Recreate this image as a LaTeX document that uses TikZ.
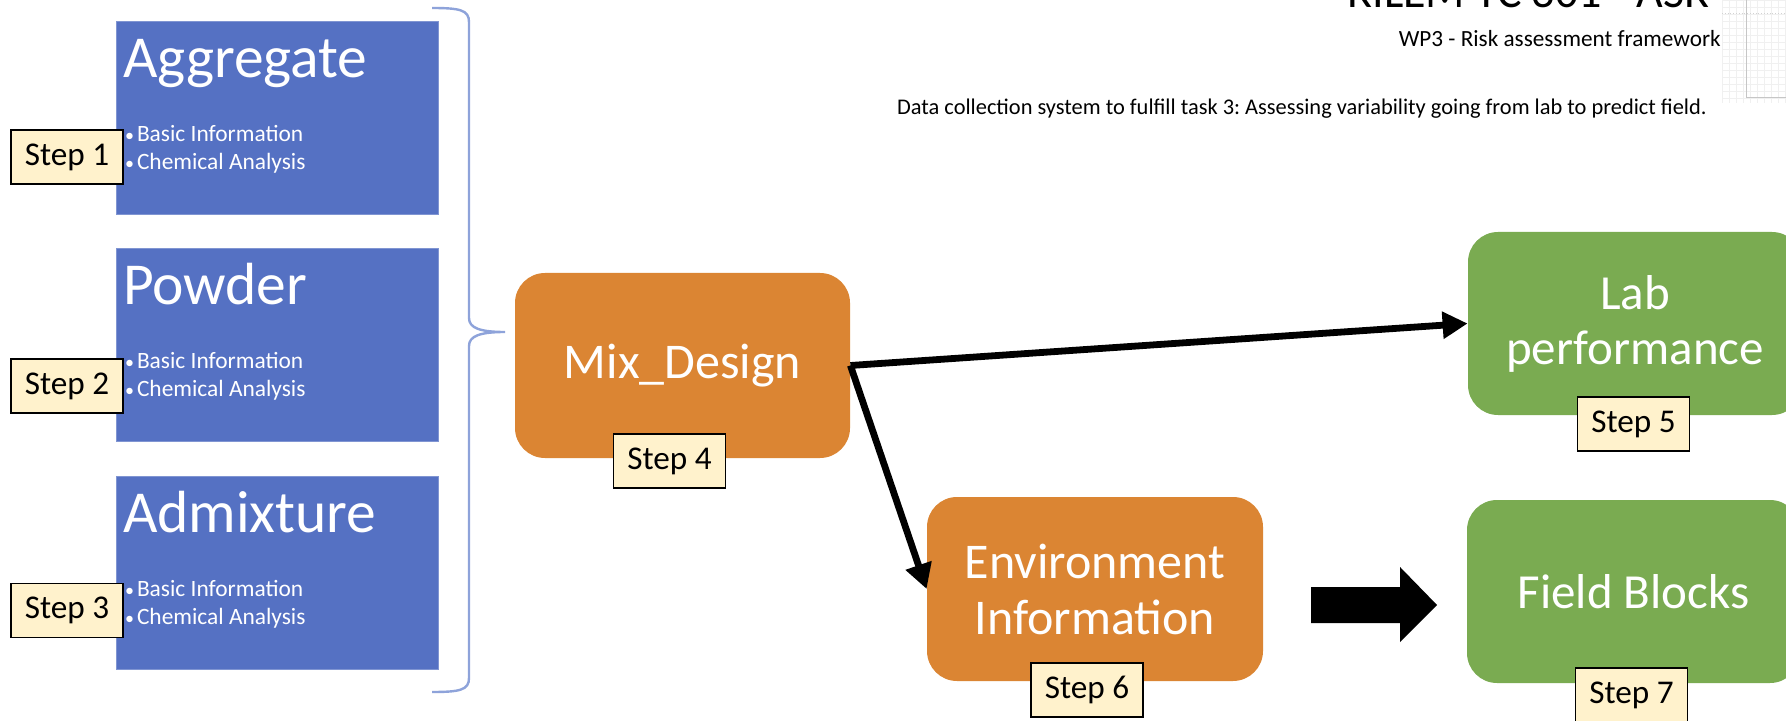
\documentclass[tikz,border=0pt]{standalone}
\usepackage{fontspec}
\setmainfont{Carlito}
\frenchspacing
\usetikzlibrary{arrows.meta,calc}
\definecolor{matblue}{HTML}{5571C3}
\definecolor{procorange}{HTML}{DB8533}
\definecolor{resgreen}{HTML}{7AAB51}
\definecolor{stepfill}{HTML}{FFF2CC}
\definecolor{bracecol}{HTML}{8EA3DA}
\begin{document}
\begin{tikzpicture}[x=0.5pt,y=-0.5pt,
  material/.style={fill=matblue, draw=matblue!75!white, line width=0.4pt,
    minimum width=161pt, minimum height=96.5pt, inner sep=0pt},
  mattitle/.style={anchor=base west, text=white, inner sep=0pt,
    font=\fontsize{29.75}{34}\selectfont},
  matitem/.style={anchor=base west, text=white, inner sep=0pt,
    font=\fontsize{11.7}{14}\selectfont},
  process/.style={fill=procorange, rounded corners=15pt, text=white,
    align=center, inner sep=0pt, font=\fontsize{25}{28}\selectfont},
  result/.style={fill=resgreen, rounded corners=15pt, text=white,
    align=center, inner sep=0pt, font=\fontsize{24.5}{27.5}\selectfont},
  stepbox/.style={draw=black, line width=0.9pt, fill=stepfill,
    minimum width=56pt, minimum height=27pt, inner sep=0pt,
    font=\fontsize{16.6}{18}\selectfont},
  flow/.style={line width=3.4pt, -{Triangle[length=12.5pt,width=13pt]}},
  header/.style={anchor=base east, inner sep=0pt, text=black}
]
\useasboundingbox (0,0) rectangle (1786,721);
\clip (0,0) rectangle (1786,721);

% faint grid strip in the top right corner
\begin{scope}
  \clip (1722,0) rectangle (1786,103);
  \foreach \gx in {1722,1729,...,1786} \draw[gray!12, line width=0.3pt] (\gx,0) -- (\gx,103);
  \foreach \gy in {0,7,...,103} \draw[gray!12, line width=0.3pt] (1722,\gy) -- (1786,\gy);
  \draw[gray!35, densely dotted, line width=0.4pt] (1722,13) -- (1786,13);
  \draw[gray!45, line width=0.5pt] (1746,0) -- (1746,98) -- (1786,98);
\end{scope}

% headings
\node[header, font=\fontsize{23}{26}\selectfont] (title) at (1710,8) {RILEM TC 301 - ASR};
\node[header, font=\fontsize{11.6}{14}\selectfont] (wp) at (1721,47) {WP3 - Risk assessment framework};
\node[header, font=\fontsize{11.2}{14}\selectfont] (task) at (1707,115)
  {Data collection system to fulfill task 3: Assessing variability going from lab to predict field.};

% material inputs
\node[material] (agg) at (277,117.5) {};
\node[material] (pow) at (277,344.5) {};
\node[material] (adm) at (277,572.5) {};
\foreach \m/\t in {agg/Aggregate, pow/Powder, adm/Admixture}{
  \node[mattitle] (\m-title) at ($(\m.north west)+(7,57)$) {\t};
  \node[matitem] (\m-basic) at ($(\m.north west)+(9,121)$)
    {\makebox[6pt][l]{\fontsize{9}{10}\selectfont •}Basic Information};
  \node[matitem] (\m-chem) at ($(\m.north west)+(9,149)$)
    {\makebox[6pt][l]{\fontsize{9}{10}\selectfont •}Chemical Analysis};
}

% brace gathering the inputs
\draw[bracecol, line width=1.2pt]
  (432,8) .. controls (460,8) and (469,10) .. (469,22) -- (469,318)
  .. controls (469,328) and (480,332) .. (505,332)
  .. controls (480,332) and (469,336) .. (469,346) -- (469,678)
  .. controls (469,690) and (460,692) .. (432,692);

% process and result blocks
\node[process, minimum width=167.5pt, minimum height=92.5pt] (mix) at (682.5,365.5) {Mix\_Design};
\node[process, minimum width=168pt, minimum height=92pt] (env) at (1095,589) {Environment\\Information};
\node[result, minimum width=167pt, minimum height=91.5pt] (lab) at (1635,323.5) {Lab\\performance};
\node[result, minimum width=166.5pt, minimum height=91.5pt] (field) at (1633.5,591.5) {Field Blocks};

% connectors
\draw[flow] (mix.east) -- (lab.west);
\draw[flow] (mix.east) -- (env.west);
\fill[black] (1311,587) -- (1400,587) -- (1400,567) -- (1437,605)
  -- (1400,642) -- (1400,623) -- (1311,623) -- cycle;

% step labels
\node[stepbox] (s1) at (67,157) {Step 1};
\node[stepbox] (s2) at (67,386) {Step 2};
\node[stepbox] (s3) at (67,610.5) {Step 3};
\node[stepbox] (s4) at (669.5,461) {Step 4};
\node[stepbox] (s5) at (1633.5,424) {Step 5};
\node[stepbox] (s6) at (1087,690) {Step 6};
\node[stepbox] (s7) at (1631.5,695) {Step 7};
\end{tikzpicture}
\end{document}
